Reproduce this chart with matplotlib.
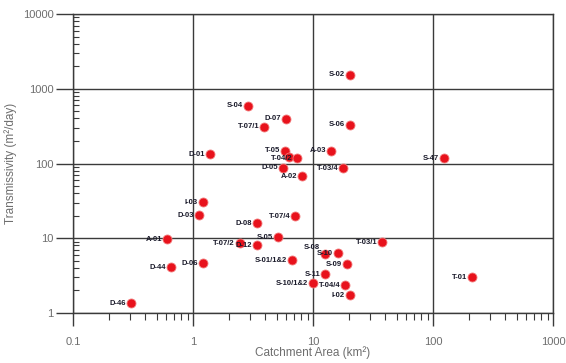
import matplotlib
matplotlib.use("Agg")
import matplotlib.pyplot as plt
from matplotlib.ticker import LogLocator, NullFormatter, FixedLocator, FixedFormatter

plt.rcParams['font.family'] = ['Liberation Sans', 'DejaVu Sans']

# Catchment area (km²) and transmissivity (m²/day) per site
sites = ["S-02", "S-04", "D-07", "T-07/1", "S-06", "D-01", "T-05", "", "T-04/2",
         "A-03", "D-05", "T-03/4", "A-02", "S-47", "I-03", "D-03", "T-07/4",
         "D-08", "S-05", "T-07/2", "D-12", "T-03/1", "S-01/1&2", "S-08", "S-10",
         "S-09", "S-11", "S-10/1&2", "T-04/4", "I-02", "A-01", "D-44", "D-06",
         "D-46", "T-01"]
area = [20.3, 2.87, 5.96, 3.91, 20.3, 1.39, 5.84, 6.31, 7.36,
        14.1, 5.62, 17.8, 8.1, 123.5, 1.21, 1.12, 7.08,
        3.41, 5.11, 2.46, 3.41, 37.6, 6.68, 12.6, 16.2,
        19.2, 12.6, 10.0, 18.5, 20.3, 0.607, 0.656, 1.21,
        0.304, 211.0]
transmissivity = [1538, 593, 398, 311, 331, 132, 149, 124, 117,
                  149, 88.4, 85.8, 67.1, 117, 30.2, 20.3, 19.7,
                  15.8, 10.3, 8.58, 8.07, 8.85, 5.09, 6.12, 6.31,
                  4.5, 3.31, 2.51, 2.36, 1.74, 9.7, 4.1, 4.64,
                  1.36, 3.02]

x_ticks = [0.1, 1, 10, 100, 1000]
x_tick_labels = ["0.1", "1", "10", "100", "1000"]
y_ticks = [1, 10, 100, 1000, 10000]
y_tick_labels = ["1", "10", "100", "1000", "10000"]

line_col = "#3a3a3a"
text_col = "#6e6e6e"

# small vertical nudges (points) for crowded labels
label_dy = {"S-08": 5}

fig = plt.figure(figsize=(5.66, 3.63), dpi=100)
ax = fig.add_axes([73 / 566, 1 - 313 / 363, 480 / 566, 299 / 363])
ax.set_xscale("log")
ax.set_yscale("log")
ax.set_xlim(0.1, 1000)
ax.set_ylim(1, 10000)

ax.grid(True, which="major", color=line_col, linewidth=1.0)
ax.set_axisbelow(True)
for side in ax.spines.values():
    side.set_color(line_col)
    side.set_linewidth(1.0)

ax.scatter(area, transmissivity, s=42, color="#e8121c", edgecolors="#f27a7a",
           linewidths=0.6, zorder=3)
for name, xa, ya in zip(sites, area, transmissivity):
    if name:
        ax.annotate(name, (xa, ya), xytext=(-3.5, label_dy.get(name, 0)),
                    textcoords="offset points", ha="right", va="center",
                    fontsize=5.5, fontweight="bold", color="#1a1a2a", zorder=4)

ax.xaxis.set_major_locator(FixedLocator(x_ticks))
ax.xaxis.set_major_formatter(FixedFormatter(x_tick_labels))
ax.yaxis.set_major_locator(FixedLocator(y_ticks))
ax.yaxis.set_major_formatter(FixedFormatter(y_tick_labels))
ax.xaxis.set_minor_locator(LogLocator(base=10, subs=range(2, 10), numticks=20))
ax.yaxis.set_minor_locator(LogLocator(base=10, subs=range(2, 10), numticks=20))
ax.xaxis.set_minor_formatter(NullFormatter())
ax.yaxis.set_minor_formatter(NullFormatter())

ax.tick_params(axis="x", which="major", direction="out", length=9, width=1,
               color=line_col, labelsize=8, labelcolor=text_col, pad=8)
ax.tick_params(axis="x", which="minor", direction="out", length=5, width=0.8,
               color=line_col)
ax.tick_params(axis="y", which="major", direction="out", length=12, width=1,
               color=line_col, labelsize=8, labelcolor=text_col, pad=2)
ax.tick_params(axis="y", which="minor", direction="in", length=4, width=0.8,
               color=line_col)

ax.set_xlabel("Catchment Area (km²)", fontsize=8.5, color=text_col, labelpad=0)
ax.set_ylabel("Transmissivity (m²/day)", fontsize=8.5, color=text_col, labelpad=4)

fig.savefig("out.png", dpi=100)
